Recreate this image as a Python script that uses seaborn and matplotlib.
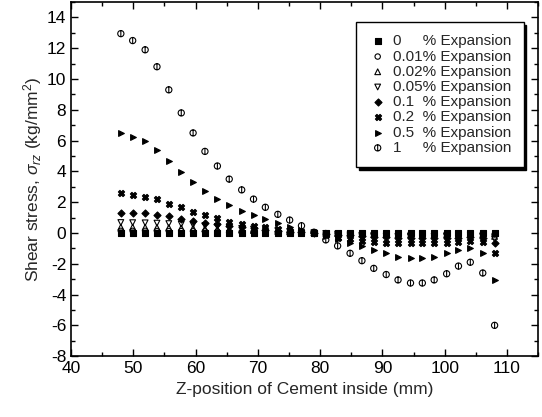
import numpy as np
import pandas as pd
import seaborn as sns
import matplotlib
matplotlib.use("Agg")
import matplotlib.pyplot as plt
from matplotlib.path import Path
from matplotlib.ticker import MultipleLocator

# ---- data ----
z_pos = [48.0, 49.9, 51.9, 53.8, 55.7, 57.7, 59.6, 61.5, 63.5, 65.4, 67.4, 69.3,
         71.2, 73.2, 75.1, 77.0, 79.0, 80.9, 82.8, 84.8, 86.7, 88.6, 90.6, 92.5,
         94.5, 96.4, 98.3, 100.3, 102.2, 104.1, 106.1, 108.0]

exp_0 = [0.0] * 32
exp_001 = [0.14, 0.14, 0.14, 0.13, 0.13, 0.12, 0.11, 0.10, 0.09, 0.08, 0.07, 0.06,
           0.05, 0.04, 0.03, 0.02, 0.0, -0.01, -0.02, -0.03, -0.04, -0.05, -0.05, -0.06,
           -0.06, -0.06, -0.06, -0.05, -0.05, -0.04, -0.05, -0.10]
exp_002 = [0.38, 0.38, 0.37, 0.36, 0.35, 0.33, 0.31, 0.28, 0.25, 0.22, 0.19, 0.16,
           0.13, 0.10, 0.07, 0.04, 0.01, -0.02, -0.04, -0.06, -0.08, -0.10, -0.11, -0.12,
           -0.13, -0.13, -0.12, -0.11, -0.10, -0.09, -0.11, -0.22]
exp_005 = [0.68, 0.67, 0.66, 0.64, 0.61, 0.57, 0.53, 0.48, 0.42, 0.36, 0.30, 0.25,
           0.20, 0.15, 0.10, 0.06, 0.02, -0.03, -0.07, -0.12, -0.15, -0.18, -0.20, -0.22,
           -0.23, -0.23, -0.22, -0.20, -0.18, -0.16, -0.20, -0.40]
exp_01 = [1.33, 1.31, 1.28, 1.20, 1.08, 0.93, 0.80, 0.68, 0.57, 0.47, 0.38, 0.30,
          0.22, 0.15, 0.09, 0.04, 0.0, -0.05, -0.10, -0.15, -0.20, -0.23, -0.27, -0.30,
          -0.32, -0.33, -0.33, -0.32, -0.30, -0.27, -0.30, -0.68]
exp_02 = [2.58, 2.47, 2.36, 2.19, 1.88, 1.67, 1.38, 1.17, 0.95, 0.73, 0.58, 0.47,
          0.37, 0.26, 0.16, 0.08, 0.0, -0.15, -0.30, -0.40, -0.50, -0.57, -0.62, -0.66,
          -0.68, -0.68, -0.66, -0.62, -0.57, -0.50, -0.60, -1.28]
exp_05 = [6.47, 6.25, 5.95, 5.41, 4.68, 3.96, 3.31, 2.75, 2.21, 1.82, 1.43, 1.17,
          0.89, 0.63, 0.40, 0.20, 0.0, -0.20, -0.42, -0.63, -0.87, -1.12, -1.32, -1.54,
          -1.65, -1.65, -1.54, -1.33, -1.12, -1.00, -1.30, -3.05]
exp_1 = [12.95, 12.50, 11.90, 10.80, 9.30, 7.80, 6.50, 5.30, 4.35, 3.50, 2.80, 2.20,
         1.67, 1.21, 0.84, 0.47, 0.05, -0.45, -0.84, -1.32, -1.80, -2.30, -2.70, -3.05,
         -3.25, -3.25, -3.05, -2.65, -2.15, -1.90, -2.60, -6.00]

labels = ["0     % Expansion", "0.01% Expansion", "0.02% Expansion", "0.05% Expansion",
          "0.1  % Expansion", "0.2  % Expansion", "0.5  % Expansion", "1     % Expansion"]
series = [exp_0, exp_001, exp_002, exp_005, exp_01, exp_02, exp_05, exp_1]

# ---- style ----
sns.set_style("ticks")
plt.rcParams['font.family'] = ['Liberation Sans', 'DejaVu Sans']
plt.rcParams['mathtext.fontset'] = 'custom'
plt.rcParams['mathtext.rm'] = 'Liberation Sans'
plt.rcParams['mathtext.it'] = 'Liberation Sans:italic'
plt.rcParams['mathtext.bf'] = 'Liberation Sans:bold'
plt.rcParams['axes.unicode_minus'] = False

# circle with vertical bar marker
circ = Path.unit_circle()
verts = np.concatenate([circ.vertices, [[0, -1.0], [0, 1.0]]])
codes = np.concatenate([circ.codes, [Path.MOVETO, Path.LINETO]])
phi_marker = Path(verts, codes)

marker_specs = [
    dict(marker='s', fc='black', s=13),
    dict(marker='o', fc='none', s=15),
    dict(marker='^', fc='none', s=17),
    dict(marker='v', fc='none', s=17),
    dict(marker='D', fc='black', s=13),
    dict(marker='X', fc='black', s=20),
    dict(marker='>', fc='black', s=17),
    dict(marker=phi_marker, fc='none', s=20),
]

fig = plt.figure(figsize=(5.42, 4.17), dpi=100)
ax = fig.add_axes([0.131, 0.146, 0.862, 0.849])

for vals, lab, spec in zip(series, labels, marker_specs):
    df = pd.DataFrame({"z": z_pos, "tau": vals})
    sns.scatterplot(data=df, x="z", y="tau", ax=ax, marker=spec['marker'],
                    s=spec['s'], facecolor=spec['fc'], edgecolor='black',
                    linewidth=0.8, label=lab, zorder=3)

ax.set_xlim(40, 115)
ax.set_ylim(-8, 15)
ax.xaxis.set_major_locator(MultipleLocator(10))
ax.xaxis.set_minor_locator(MultipleLocator(5))
ax.yaxis.set_major_locator(MultipleLocator(2))
ax.yaxis.set_minor_locator(MultipleLocator(1))
ax.set_xticks([40, 50, 60, 70, 80, 90, 100, 110])
ax.set_yticks([-8, -6, -4, -2, 0, 2, 4, 6, 8, 10, 12, 14])
ax.tick_params(which='both', direction='in', top=True, right=True,
               labeltop=False, labelright=False, width=1.0, colors='black')
ax.tick_params(which='major', length=5, labelsize=12.5)
ax.tick_params(which='minor', length=3)
for sp in ax.spines.values():
    sp.set_linewidth(1.2)
    sp.set_color('black')

ax.set_xlabel("Z-position of Cement inside (mm)", fontsize=12.5, labelpad=4)
ax.set_ylabel(r"Shear stress, $\sigma_{rz}$ (kg/mm$^2$)", fontsize=12.5, labelpad=2)

leg = ax.legend(loc='upper right', bbox_to_anchor=(0.985, 0.965), fontsize=11,
                frameon=True, fancybox=False, shadow={'color': 'black', 'alpha': 1},
                edgecolor='black', framealpha=1, handletextpad=0.4,
                labelspacing=0.08, borderpad=0.8, handlelength=1.2,
                markerscale=1.0)
leg.get_frame().set_linewidth(1.0)

fig.savefig("out.png", dpi=100)
